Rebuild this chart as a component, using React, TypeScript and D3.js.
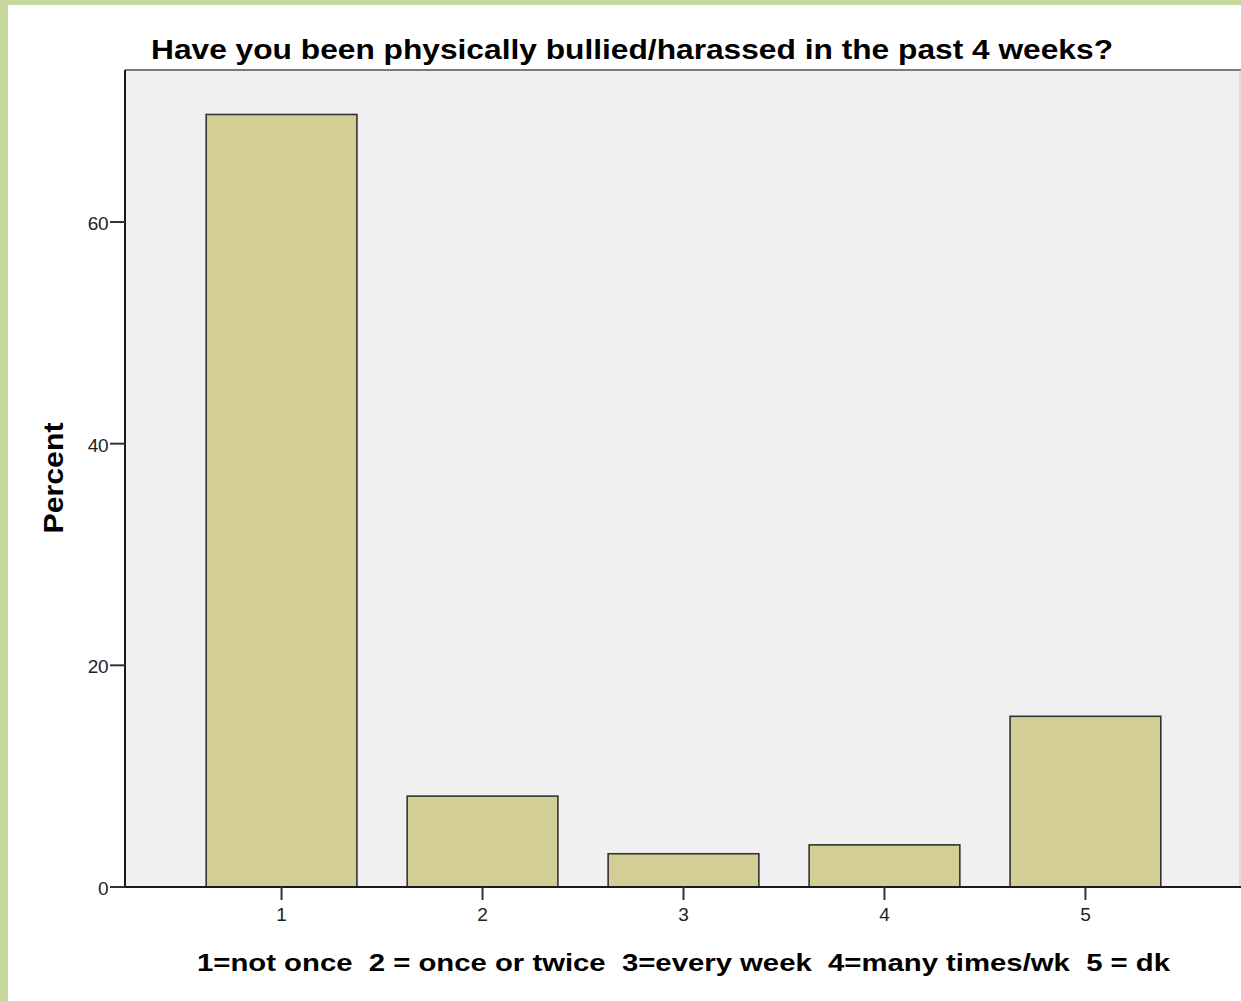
import React from "react";
import * as d3 from "d3";

const categories = ["1", "2", "3", "4", "5"];
const percents = [69.7, 8.2, 3.0, 3.8, 15.4];
const yTicks = [0, 20, 40, 60];
const title = "Have you been physically bullied/harassed in the past 4 weeks?";
const xTitle = "1=not once  2 = once or twice  3=every week  4=many times/wk  5 = dk";
const yTitle = "Percent";

const W = 1241;
const H = 1001;
const left = 125;
const right = 1242;
const top = 70;
const bottom = 887;

export default function App() {
  const x = d3
    .scaleBand<string>()
    .domain(categories)
    .range([left, right])
    .paddingInner(0.25)
    .paddingOuter(0.404);
  const y = d3.scaleLinear().domain([0, 60]).range([bottom, 222]);
  const font = "'Liberation Sans', Arial, sans-serif";
  return (
    <svg
      width={W}
      height={H}
      style={{ position: "absolute", left: 0, top: 0, display: "block" }}
      fontFamily={font}
    >
      <rect x={0} y={0} width={W} height={H} fill="#c6d89c" />
      <rect x={8} y={5} width={W - 8} height={H - 5} fill="#ffffff" />
      <rect x={left} y={top} width={right - left} height={bottom - top} fill="#f0f0f0" />
      <line x1={left} x2={W} y1={top} y2={top} stroke="#7a7a7a" strokeWidth={2} />
      <line x1={W - 1} x2={W - 1} y1={top} y2={bottom} stroke="#c8c8c8" strokeWidth={1} />
      {categories.map((c, i) => (
        <rect
          key={c}
          x={x(c)!}
          y={y(percents[i])}
          width={x.bandwidth()}
          height={bottom - y(percents[i])}
          fill="#d3ce96"
          stroke="#333333"
          strokeWidth={1.6}
        />
      ))}
      <line x1={left} x2={left} y1={top} y2={bottom} stroke="#1a1a1a" strokeWidth={2} />
      <line x1={left} x2={W} y1={bottom} y2={bottom} stroke="#1a1a1a" strokeWidth={2} />
      {yTicks.map((t) => (
        <g key={t}>
          <line x1={110} x2={left} y1={y(t)} y2={y(t)} stroke="#333" strokeWidth={2} />
          <text
            x={108}
            y={y(t)}
            dy="0.42em"
            textAnchor="end"
            fontSize={19}
            fill="#222"
            letterSpacing={-0.5}
          >
            {t}
          </text>
        </g>
      ))}
      {categories.map((c) => {
        const cx = x(c)! + x.bandwidth() / 2;
        return (
          <g key={c}>
            <line x1={cx} x2={cx} y1={bottom} y2={bottom + 13} stroke="#333" strokeWidth={2} />
            <text x={cx} y={921} textAnchor="middle" fontSize={19} fill="#222">
              {c}
            </text>
          </g>
        );
      })}
      <text
        x={151}
        y={59}
        fontSize={28}
        fontWeight="bold"
        fill="#000"
        textLength={962}
        lengthAdjust="spacingAndGlyphs"
      >
        {title}
      </text>
      <text
        x={197}
        y={971}
        fontSize={24}
        fontWeight="bold"
        fill="#000"
        style={{ whiteSpace: "pre" }}
        textLength={973}
        lengthAdjust="spacingAndGlyphs"
      >
        {xTitle}
      </text>
      <text
        transform={`translate(63, 478) rotate(-90)`}
        textAnchor="middle"
        fontSize={28}
        fontWeight="bold"
        fill="#000"
        textLength={111}
        lengthAdjust="spacingAndGlyphs"
      >
        {yTitle}
      </text>
    </svg>
  );
}
